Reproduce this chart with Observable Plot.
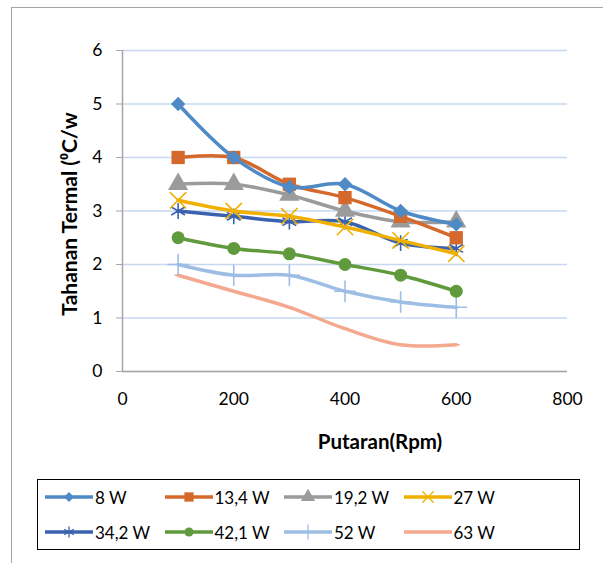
<!DOCTYPE html>
<html>
<head>
<meta charset="utf-8">
<script src="https://cdn.jsdelivr.net/npm/d3@7"></script>
<script src="https://cdn.jsdelivr.net/npm/@observablehq/plot@0.6"></script>
<style>
  html, body { margin: 0; padding: 0; background: #fff; }
  body { width: 603px; height: 563px; position: relative; overflow: hidden; font-family: Lato, "Open Sans", sans-serif; }
  #frameL { position: absolute; left: 11px; top: 7px; width: 1px; height: 560px; background: #a6a6a6; }
  #frameT { position: absolute; left: 11px; top: 7px; width: 600px; height: 1px; background: #a6a6a6; }
  #chart { position: absolute; left: 0; top: 0; }
  #legend { position: absolute; left: 37px; top: 479px; width: 541px; height: 69px; border: 1.5px solid #000; }
  .item { position: absolute; height: 22px; display: flex; align-items: center; font-size: 17px; color: #000; }
  .item svg { margin-right: 2px; }
</style>
</head>
<body>
<div id="frameL"></div>
<div id="frameT"></div>
<div id="chart"></div>
<div id="legend"></div>
<script>
// ---- data ----
const rpm = [100, 200, 300, 400, 500, 600];
const seriesNames = ["8 W", "13,4 W", "19,2 W", "27 W", "34,2 W", "42,1 W", "52 W", "63 W"];
const w8   = [5.0, 4.0, 3.45, 3.5, 3.0, 2.75];
const w134 = [4.0, 4.0, 3.5, 3.25, 2.9, 2.5];
const w192 = [3.5, 3.5, 3.3, 3.0, 2.8, 2.8];
const w27  = [3.2, 3.0, 2.9, 2.7, 2.45, 2.2];
const w342 = [3.0, 2.9, 2.8, 2.8, 2.4, 2.3];
const w421 = [2.5, 2.3, 2.2, 2.0, 1.8, 1.5];
const w52  = [2.0, 1.8, 1.8, 1.5, 1.3, 1.2];
const w63  = [1.8, 1.5, 1.2, 0.8, 0.5, 0.5];
const xTicks = [0, 200, 400, 600, 800];
const yTicks = [0, 1, 2, 3, 4, 5, 6];
const xTitle = "Putaran(Rpm)";
const yTitle = "Tahanan Termal (⁰C/w";

const values = [w8, w134, w192, w27, w342, w421, w52, w63];
const colors = ["#4e8ac6", "#d4692b", "#9b9b9b", "#f0b000", "#3a62ae", "#5f9b3c", "#9dbee4", "#f4a88e"];

const dash = { draw(ctx, size) { const w = Math.sqrt(size) * 0.5; ctx.moveTo(-w, 0); ctx.lineTo(w, 0); } };
const styles = [
  { symbol: "diamond2", r: 6.5, fill: true },
  { symbol: "square", r: 7.5, fill: true },
  { symbol: "triangle", r: 7.5, fill: true },
  { symbol: "times", r: 7.5, fill: false },
  { symbol: "asterisk", r: 7.5, fill: false },
  { symbol: "circle", r: 6.5, fill: true },
  { symbol: "plus", r: 7, fill: false },
  { symbol: dash, r: 4, fill: false }
];

const data = [];
seriesNames.forEach((name, i) => rpm.forEach((x, j) => data.push({ series: name, idx: i, x, y: values[i][j] })));

const marks = [
  Plot.gridY(yTicks, { stroke: "#c5d8f0", strokeOpacity: 1, strokeWidth: 1.5 }),
  Plot.ruleX([0], { stroke: "#a6a6a6", strokeWidth: 1.5 }),
  Plot.ruleY([0], { stroke: "#a6a6a6", strokeWidth: 1.5 }),
  Plot.axisX(xTicks, { tickSize: 0, tickPadding: 21, fontSize: 17.5, label: null, tickFormat: d => String(d) }),
  Plot.axisY(yTicks, { tickSize: 6, tickPadding: 14, fontSize: 17.5, stroke: "#a6a6a6", label: null, tickFormat: d => String(d) }),
  Plot.text([xTitle], { text: d => d, frameAnchor: "bottom", textAnchor: "middle", lineAnchor: "middle", dx: 35, dy: 71, fontSize: 20.5, fontWeight: "bold", fill: "#000" }),
  Plot.text([yTitle], { text: d => d, frameAnchor: "left", textAnchor: "middle", lineAnchor: "middle", rotate: -90, dx: -52, dy: 3, fontSize: 21, fontWeight: "bold", fill: "#000" })
];
// draw in reverse so 8 W ends on top
for (let i = seriesNames.length - 1; i >= 0; i--) {
  const d = data.filter(e => e.idx === i);
  marks.push(Plot.line(d, { x: "x", y: "y", stroke: colors[i], strokeWidth: 3.5, curve: "catmull-rom" }));
  const s = styles[i];
  marks.push(Plot.dot(d, {
    x: "x", y: "y", symbol: () => s.symbol, r: s.r,
    fill: s.fill ? colors[i] : "none",
    stroke: colors[i], strokeWidth: s.fill ? 0 : 1.6
  }));
}

const chart = Plot.plot({
  width: 603, height: 470,
  marginLeft: 122, marginRight: 36, marginTop: 50, marginBottom: 99,
  style: { fontFamily: "Lato, 'Open Sans', sans-serif", fontSize: "17.5px", color: "#000", background: "transparent" },
  x: { domain: [0, 800] },
  y: { domain: [0, 6] },
  symbol: { type: "identity" },
  marks
});
document.getElementById("chart").appendChild(chart);

// ---- legend ----
const legend = document.getElementById("legend");
const symMap = { diamond2: d3.symbolDiamond2, square: d3.symbolSquare, triangle: d3.symbolTriangle, times: d3.symbolTimes, asterisk: d3.symbolAsterisk, circle: d3.symbolCircle, plus: d3.symbolPlus };
seriesNames.forEach((name, i) => {
  const row = Math.floor(i / 4), col = i % 4;
  const item = document.createElement("div");
  item.className = "item";
  item.style.left = (7 + col * 119.5) + "px";
  item.style.top = (6 + row * 35) + "px";
  const svg = d3.create("svg").attr("width", 48).attr("height", 20);
  svg.append("line").attr("x1", 0).attr("x2", 48).attr("y1", 10).attr("y2", 10)
    .attr("stroke", colors[i]).attr("stroke-width", 3.5);
  const s = styles[i];
  const sym = typeof s.symbol === "string" ? symMap[s.symbol] : s.symbol;
  if (i !== 7) {
    const rr = s.r * 0.7;
    svg.append("path").attr("transform", "translate(24,10)")
      .attr("d", d3.symbol(sym, Math.PI * rr * rr)())
      .attr("fill", s.fill ? colors[i] : "none")
      .attr("stroke", colors[i]).attr("stroke-width", s.fill ? 0 : 1.3);
  }
  item.appendChild(svg.node());
  const t = document.createElement("span");
  t.textContent = name;
  item.appendChild(t);
  legend.appendChild(item);
});
</script>
</body>
</html>
